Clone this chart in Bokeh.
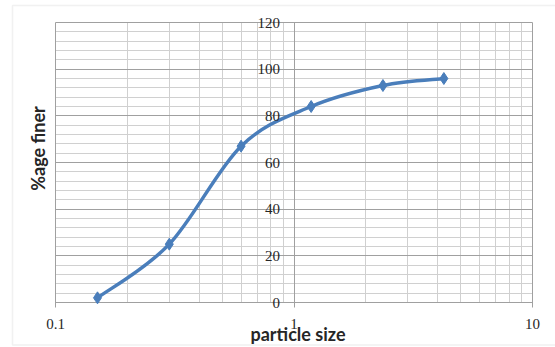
import numpy as np
from bokeh.plotting import figure
from bokeh.models import (Range1d, FixedTicker, Grid, Label, LabelSet,
                          BoxAnnotation, ColumnDataSource)
from bokeh.embed import file_html
from bokeh.resources import INLINE

# data
particle_size = [0.15, 0.3, 0.6, 1.18, 2.36, 4.25]
pct_finer = [2, 25, 67, 84, 93, 96]

x_major = [0.1, 1, 10]
x_labels = ["0.1", "1", "10"]
x_minor = [0.2, 0.3, 0.4, 0.5, 0.6, 0.7, 0.8, 0.9, 2, 3, 4, 5, 6, 7, 8, 9]
y_major = [0, 20, 40, 60, 80, 100, 120]
y_labels = ["0", "20", "40", "60", "80", "100", "120"]
y_minor = [v for v in range(0, 121, 4) if v % 20 != 0]

FONT = "Lato"
BLUE = "#4A7EBB"
TXT = "#262626"

# layout: pixel position of the plot area inside the canvas
W, H = 555, 347
PL, PR, PT, PB = 55, 532, 22, 302
XMIN, XMAX, YMIN, YMAX = 0.1, 10.0, 0.0, 120.0
dec = (PR - PL) / (np.log10(XMAX) - np.log10(XMIN))
ppu = (PB - PT) / (YMAX - YMIN)


def x_at(px):
    return float(10 ** (np.log10(XMIN) + (px - PL) / dec))


def y_at(py):
    return float(YMIN + (PB - py) / ppu)


p = figure(width=W, height=H, x_axis_type="log",
           x_axis_location=None, y_axis_location=None,
           x_range=Range1d(x_at(0), x_at(W)), y_range=Range1d(y_at(H), y_at(0)),
           output_backend="svg", toolbar_location=None)
p.min_border = 0
p.outline_line_color = None
p.background_fill_color = "white"
p.border_fill_color = "white"
p.xgrid.visible = False
p.ygrid.visible = False

# chart border
p.add_layout(BoxAnnotation(left=x_at(12), right=x_at(W + 20), top=y_at(5), bottom=y_at(344.5),
                           fill_color=None, line_color="#d0d0d0", line_width=1.5,
                           level="underlay"))

# gridlines
MINOR_C, MAJOR_C = "#d0d0d0", "#a0a0a0"
p.add_layout(Grid(dimension=0, ticker=FixedTicker(ticks=x_minor), cross_bounds=(YMIN, YMAX),
                  grid_line_color=MINOR_C, grid_line_width=1))
p.add_layout(Grid(dimension=1, ticker=FixedTicker(ticks=y_minor), cross_bounds=(XMIN, XMAX),
                  grid_line_color=MINOR_C, grid_line_width=1))
p.add_layout(Grid(dimension=1, ticker=FixedTicker(ticks=y_major), cross_bounds=(XMIN, XMAX),
                  grid_line_color=MAJOR_C, grid_line_width=1))
p.add_layout(Grid(dimension=0, ticker=FixedTicker(ticks=x_major),
                  cross_bounds=(y_at(PB + 5), YMAX),
                  grid_line_color=MAJOR_C, grid_line_width=1))

# tick labels
ysrc = ColumnDataSource(dict(x=[1] * len(y_major), y=y_major, t=y_labels))
p.add_layout(LabelSet(x="x", y="y", text="t", source=ysrc, x_offset=-14,
                      text_align="right", text_baseline="middle",
                      text_font=FONT, text_font_size="15px", text_color=TXT))
xsrc = ColumnDataSource(dict(x=x_major, y=[0] * len(x_major), t=x_labels))
p.add_layout(LabelSet(x="x", y="y", text="t", source=xsrc, y_offset=-21,
                      text_align="center", text_baseline="middle",
                      text_font=FONT, text_font_size="15px", text_color=TXT))

# smoothed line (Catmull-Rom style bezier, as Excel's smoothed line)
lx = np.log10(particle_size)
ly = np.array(pct_finer, dtype=float)
n = len(lx)
x0, y0, x1, y1, cx0, cy0, cx1, cy1 = ([] for _ in range(8))
for i in range(n - 1):
    a = max(i - 1, 0)
    d = min(i + 2, n - 1)
    x0.append(particle_size[i]); y0.append(pct_finer[i])
    x1.append(particle_size[i + 1]); y1.append(pct_finer[i + 1])
    cx0.append(float(10 ** (lx[i] + (lx[i + 1] - lx[a]) / 6)))
    cy0.append(float(ly[i] + (ly[i + 1] - ly[a]) / 6))
    cx1.append(float(10 ** (lx[i + 1] - (lx[d] - lx[i]) / 6)))
    cy1.append(float(ly[i + 1] - (ly[d] - ly[i]) / 6))
p.bezier(x0=x0, y0=y0, x1=x1, y1=y1, cx0=cx0, cy0=cy0, cx1=cx1, cy1=cy1,
         line_color=BLUE, line_width=3.5)
p.scatter(particle_size, pct_finer, marker="diamond", size=12,
          fill_color=BLUE, line_color=BLUE)

# axis titles
p.add_layout(Label(x=1, y=0, x_offset=4, y_offset=-31, text="particle size",
                   text_font=FONT, text_font_size="18px", text_font_style="bold",
                   text_align="center", text_baseline="middle", text_color=TXT))
p.add_layout(Label(x=x_at(37), y=y_at(148), text="%age finer", angle=float(np.pi / 2),
                   text_font=FONT, text_font_size="18px", text_font_style="bold",
                   text_align="center", text_baseline="middle", text_color=TXT))

open("out.html", "w").write(file_html(p, INLINE))
